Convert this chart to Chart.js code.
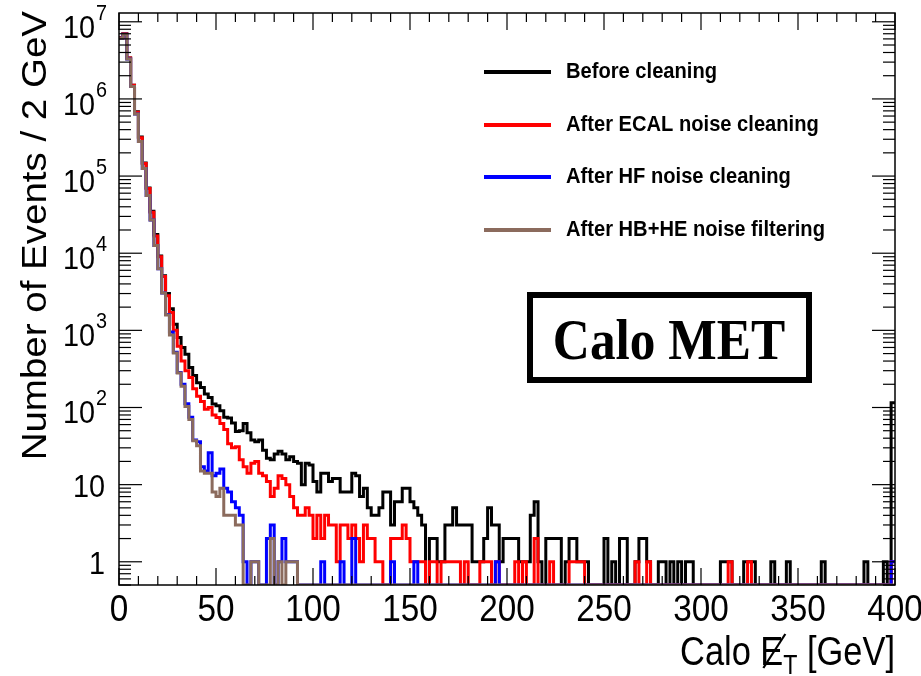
<!DOCTYPE html>
<html>
<head>
<meta charset="utf-8">
<script src="https://cdn.jsdelivr.net/npm/chart.js"></script>
<style>
  html, body { margin: 0; padding: 0; background: #fff; }
  #wrap { width: 921px; height: 676px; }
</style>
</head>
<body>
<div id="wrap"><canvas id="chart" width="921" height="676"></canvas></div>
<script>
    // ▼ Calo MET, 2 GeV bins from 0 to 400 GeV (200 bins per series)
    const BIN_WIDTH = 2;
    const X_MIN = 0, X_MAX = 400;
    const Y_MIN = 0.5, Y_MAX = 1.3e7;

    const seriesLabels = [
        'Before cleaning',
        'After ECAL noise cleaning',
        'After HF noise cleaning',
        'After HB+HE noise filtering'
    ];
    const seriesColors = ['#000000', '#ff0000', '#0000ff', '#8b6b5d'];

    const xTicks = [0, 50, 100, 150, 200, 250, 300, 350, 400];
    const yTickPowers = [0, 1, 2, 3, 4, 5, 6, 7];

    const beforeCleaning = [
        6200000, 7000000, 3400000, 1500000, 680000, 320000, 148000, 70000, 35000, 17500,
        9200, 5100, 3000, 1900, 1200, 810, 600, 490, 330, 260,
        210, 182, 150, 135, 111, 105, 91, 75, 73, 63,
        49, 50, 62, 47, 38, 36, 38, 28, 22, 21,
        25, 27, 25, 21, 23, 20, 19, 10, 19, 18,
        11, 8, 14, 14, 11, 12, 12, 8, 8, 8,
        14, 13, 7, 9, 5, 4, 4, 5, 8, 8,
        3, 6, 6, 9, 9, 6, 5, 4, 3, 0,
        2, 2, 1, 1, 3, 3, 5, 3, 3, 3,
        3, 1, 1, 1, 2, 5, 3, 3, 1, 2,
        2, 2, 2, 1, 1, 1, 4, 6, 1, 0,
        2, 2, 2, 2, 0, 1, 2, 2, 1, 1,
        1, 0, 0, 0, 0, 2, 0, 1, 0, 2,
        2, 0, 0, 1, 2, 2, 1, 0, 0, 1,
        1, 0, 1, 0, 1, 0, 1, 1, 0, 0,
        0, 0, 0, 0, 0, 1, 1, 1, 0, 0,
        0, 1, 1, 1, 0, 0, 0, 0, 1, 0,
        0, 0, 1, 0, 0, 0, 0, 0, 0, 0,
        0, 1, 0, 0, 0, 0, 0, 0, 0, 0,
        0, 0, 1, 0, 0, 0, 0, 1, 0, 115
    ];

    const afterEcal = [
        6200000, 7000000, 3400000, 1500000, 670000, 315000, 145000, 69000, 34000, 16700,
        9000, 5000, 2800, 1700, 1000, 620, 400, 300, 245, 175,
        140, 120, 95, 100, 80, 74, 62, 52, 34, 30,
        31, 21, 17, 14, 19, 20, 14, 13, 11, 7,
        9, 13, 12, 10, 7, 5, 4, 4, 5, 4,
        2, 4, 2, 4, 3, 3, 1, 3, 3, 2,
        3, 2, 1, 3, 2, 2, 1, 1, 0, 0,
        2, 2, 2, 3, 2, 1, 1, 1, 1, 0,
        1, 1, 0, 1, 1, 1, 1, 1, 0, 1,
        0, 0, 0, 1, 1, 1, 0, 1, 0, 0,
        0, 0, 1, 0, 1, 0, 0, 2, 0, 0,
        0, 1, 0, 0, 0, 0, 1, 1, 1, 1,
        0, 0, 0, 0, 0, 0, 0, 0, 0, 0,
        0, 0, 0, 1, 0, 0, 1, 0, 0, 0,
        0, 0, 0, 0, 0, 0, 0, 0, 0, 0,
        0, 0, 0, 0, 0, 0, 0, 1, 0, 0,
        0, 0, 1, 0, 0, 0, 0, 0, 0, 0,
        0, 0, 0, 0, 0, 0, 0, 0, 0, 0,
        0, 0, 0, 0, 0, 0, 0, 0, 0, 0,
        0, 0, 0, 0, 0, 0, 0, 0, 0, 1
    ];

    const afterHf = [
        6100000, 6900000, 3300000, 1450000, 640000, 280000, 125000, 56000, 27000, 12600,
        6300, 3050, 1600, 950, 520, 285, 200, 112, 75, 38,
        36, 17, 15, 26, 13, 14, 16, 9, 8, 6,
        5, 4, 1, 0, 1, 1, 0, 0, 2, 3,
        0, 1, 2, 1, 1, 1, 0, 0, 0, 0,
        0, 0, 1, 0, 0, 0, 0, 1, 0, 0,
        2, 0, 0, 0, 0, 0, 0, 0, 0, 0,
        1, 0, 0, 0, 0, 0, 1, 0, 0, 0,
        0, 0, 0, 0, 0, 0, 0, 0, 0, 0,
        0, 0, 0, 0, 0, 0, 0, 1, 0, 0,
        0, 0, 0, 0, 0, 0, 0, 0, 0, 0,
        0, 0, 0, 0, 0, 0, 0, 0, 0, 0,
        0, 0, 0, 0, 0, 0, 0, 0, 0, 0,
        0, 0, 0, 0, 0, 0, 0, 0, 0, 0,
        0, 0, 0, 0, 0, 0, 0, 0, 0, 0,
        0, 0, 0, 0, 0, 0, 0, 0, 0, 0,
        0, 0, 0, 0, 0, 0, 0, 0, 0, 0,
        0, 0, 0, 0, 0, 0, 0, 0, 0, 0,
        0, 0, 0, 0, 0, 0, 0, 0, 0, 0,
        0, 0, 0, 0, 0, 0, 0, 0, 0, 1
    ];

    const afterHbHe = [
        6100000, 6900000, 3300000, 1450000, 640000, 280000, 125000, 56000, 27000, 12600,
        6300, 3050, 1580, 870, 510, 280, 188, 103, 70, 37,
        32, 15, 14, 14, 8, 7, 9, 4, 4, 4,
        3, 3, 0, 0, 1, 1, 0, 0, 0, 2,
        0, 1, 0, 1, 1, 1, 0, 0, 0, 0,
        0, 0, 0, 0, 0, 0, 0, 0, 0, 0,
        0, 0, 0, 0, 0, 0, 0, 0, 0, 0,
        0, 0, 0, 0, 0, 0, 0, 0, 0, 0,
        0, 0, 0, 0, 0, 0, 0, 0, 0, 0,
        0, 0, 0, 0, 0, 0, 0, 0, 0, 0,
        0, 0, 0, 0, 0, 0, 0, 0, 0, 0,
        0, 0, 0, 0, 0, 0, 0, 0, 0, 0,
        0, 0, 0, 0, 0, 0, 0, 0, 0, 0,
        0, 0, 0, 0, 0, 0, 0, 0, 0, 0,
        0, 0, 0, 0, 0, 0, 0, 0, 0, 0,
        0, 0, 0, 0, 0, 0, 0, 0, 0, 0,
        0, 0, 0, 0, 0, 0, 0, 0, 0, 0,
        0, 0, 0, 0, 0, 0, 0, 0, 0, 0,
        0, 0, 0, 0, 0, 0, 0, 0, 0, 0,
        0, 0, 0, 0, 0, 0, 0, 0, 0, 0
    ];

    const SANS = '"Liberation Sans", Arial, Helvetica, sans-serif';
    const SERIF = '"Liberation Serif", "Times New Roman", serif';
    const NARROW = 0.9;   // glyphs are a bit narrower than plain Helvetica

    // ▼ histogram -> step points (bin centres, padded with both outer edges)
    function toSteps(counts) {
        const pts = [{ x: X_MIN, y: counts[0] > 0 ? counts[0] : Y_MIN }];
        counts.forEach((c, i) => {
            pts.push({ x: X_MIN + (i + 0.5) * BIN_WIDTH, y: c > 0 ? c : Y_MIN });
        });
        const last = counts[counts.length - 1];
        pts.push({ x: X_MAX, y: last > 0 ? last : Y_MIN });
        return pts;
    }

    const allSeries = [beforeCleaning, afterEcal, afterHf, afterHbHe];
    const datasets = allSeries.map((counts, i) => ({
        label: seriesLabels[i],
        data: toSteps(counts),
        borderColor: seriesColors[i],
        borderWidth: 3,
        stepped: 'middle',
        pointRadius: 0,
        fill: false,
        order: allSeries.length - i   // black underneath, brown on top
    }));

    function seg(ctx, x1, y1, x2, y2) {
        ctx.beginPath();
        ctx.moveTo(x1, y1);
        ctx.lineTo(x2, y2);
        ctx.stroke();
    }

    // text squeezed horizontally
    function text(ctx, str, x, y, font, align, sx = NARROW) {
        ctx.save();
        ctx.font = font;
        ctx.translate(x, y);
        ctx.scale(sx, 1);
        ctx.textAlign = align;
        ctx.fillText(str, 0, 0);
        ctx.restore();
    }

    function textWidth(ctx, str, font, sx = NARROW) {
        ctx.save();
        ctx.font = font;
        const w = ctx.measureText(str).width * sx;
        ctx.restore();
        return w;
    }

    // ▼ ROOT-like frame, inward ticks, labels, legend and tag box
    const rootStyle = {
        id: 'rootStyle',
        afterDatasetsDraw(chart) {
            const { ctx, chartArea: a, scales: { x, y } } = chart;
            ctx.save();
            ctx.strokeStyle = '#000';
            ctx.fillStyle = '#000';
            ctx.textBaseline = 'alphabetic';

            // frame
            ctx.lineWidth = 1.5;
            ctx.strokeRect(a.left, a.top, a.right - a.left, a.bottom - a.top);

            // x ticks: minor every 10 GeV, major every 50 GeV (bottom and top)
            ctx.lineWidth = 1.2;
            for (let v = X_MIN; v <= X_MAX; v += 10) {
                const px = x.getPixelForValue(v);
                const len = v % 50 === 0 ? 17 : 9;
                seg(ctx, px, a.bottom, px, a.bottom - len);
                seg(ctx, px, a.top, px, a.top + len);
            }

            // y ticks: decades long, 2..9 short (left and right)
            for (let p = -1; p <= 7; p++) {
                for (let m = 1; m <= 9; m++) {
                    const v = m * Math.pow(10, p);
                    if (v < Y_MIN || v > Y_MAX) continue;
                    const py = y.getPixelForValue(v);
                    const len = m === 1 ? 23 : 12;
                    seg(ctx, a.left, py, a.left + len, py);
                    seg(ctx, a.right, py, a.right - len, py);
                }
            }

            // x tick labels
            xTicks.forEach(v => {
                text(ctx, String(v), x.getPixelForValue(v), 621, `37px ${SANS}`, 'center');
            });

            // y tick labels, 10^n with raised exponent
            const rx = 107;
            const digitFont = `32px ${SANS}`, expFont = `22px ${SANS}`;
            yTickPowers.forEach(p => {
                const py = y.getPixelForValue(Math.pow(10, p));
                if (p === 0 || p === 1) {
                    text(ctx, p === 0 ? '1' : '10', rx - 2, py + 12, digitFont, 'right');
                } else {
                    const exp = String(p);
                    const ew = textWidth(ctx, exp, expFont);
                    text(ctx, exp, rx, py - 2, expFont, 'right');
                    text(ctx, '10', rx - ew - 1, py + 16, digitFont, 'right');
                }
            });

            // y axis title
            ctx.save();
            ctx.translate(46, a.top - 2);
            ctx.rotate(-Math.PI / 2);
            ctx.scale(1, NARROW);
            ctx.font = `38.5px ${SANS}`;
            ctx.textAlign = 'right';
            ctx.fillText('Number of Events / 2 GeV', 0, 0);
            ctx.restore();

            // x axis title: Calo E(slashed)_T [GeV], right aligned to frame
            const sxT = 0.86;
            const big = `40px ${SANS}`, small = `27px ${SANS}`;
            const wCalo = textWidth(ctx, 'Calo ', big, sxT);
            const wE = textWidth(ctx, 'E', big, sxT);
            const wT = textWidth(ctx, 'T', small, sxT);
            const wRest = textWidth(ctx, ' [GeV]', big, sxT);
            const base = 665;
            let tx = a.right - (wCalo + wE + wT + wRest);
            text(ctx, 'Calo ', tx, base, big, 'left', sxT);
            tx += wCalo;
            text(ctx, 'E', tx, base, big, 'left', sxT);
            ctx.lineWidth = 2.2;
            seg(ctx, tx + 3, base + 3, tx + wE + 2, base - 31);
            tx += wE;
            text(ctx, 'T', tx, base + 9, small, 'left', sxT);
            tx += wT;
            text(ctx, ' [GeV]', tx, base, big, 'left', sxT);

            // legend
            const legendY = [72, 125, 177, 230];
            chart.data.datasets.forEach((ds, i) => {
                ctx.strokeStyle = ds.borderColor;
                ctx.lineWidth = 4;
                seg(ctx, 484, legendY[i], 551, legendY[i]);
                ctx.fillStyle = '#000';
                text(ctx, ds.label, 566, legendY[i] + 6, `bold 22px ${SANS}`, 'left', 0.915);
            });

            // "Calo MET" tag
            ctx.strokeStyle = '#000';
            ctx.lineWidth = 6;
            ctx.strokeRect(530, 295, 279, 85);
            text(ctx, 'Calo MET', 669, 359, `bold 57px ${SERIF}`, 'center', 0.9);

            ctx.restore();
        }
    };

    const chart = new Chart(document.getElementById('chart').getContext('2d'), {
        type: 'line',
        data: { datasets },
        options: {
            responsive: false,
            animation: false,
            devicePixelRatio: 1,
            layout: { padding: { left: 119, right: 26, top: 13, bottom: 91 } },
            plugins: { legend: { display: false }, tooltip: { enabled: false } },
            elements: { line: { tension: 0 } },
            scales: {
                x: { type: 'linear', min: X_MIN, max: X_MAX, display: false },
                y: { type: 'logarithmic', min: Y_MIN, max: Y_MAX, display: false }
            }
        },
        plugins: [rootStyle]
    });
</script>
</body>
</html>
